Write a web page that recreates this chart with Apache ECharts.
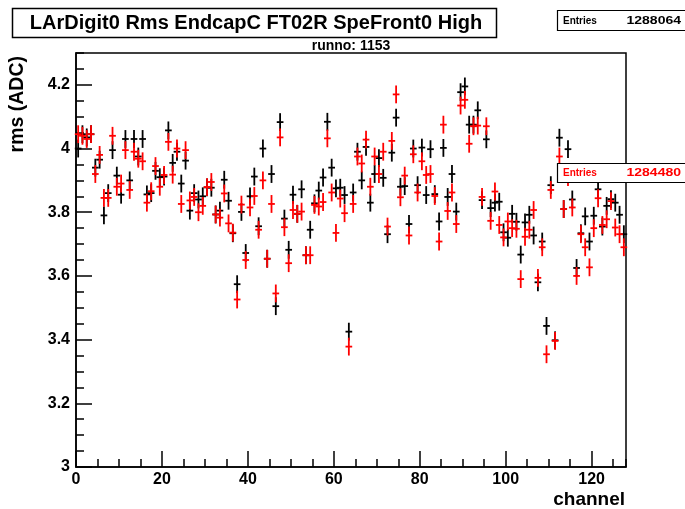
<!DOCTYPE html>
<html><head><meta charset="utf-8">
<script src="https://cdn.jsdelivr.net/npm/echarts@6/dist/echarts.min.js"></script>
<style>html,body{margin:0;padding:0;background:#fff}#c{width:685px;height:509px}</style>
</head><body><div id="c"></div>
<script>
const titleText = "LArDigit0 Rms EndcapC FT02R SpeFront0 High";
const subTitle = "runno: 1153";
const xName = "channel";
const yName = "rms (ADC)";
const entriesLabel = "Entries";
const entriesBlack = "1288064";
const entriesRed = "1284480";
const xTickLabels = [0, 20, 40, 60, 80, 100, 120];
const yTickLabels = [3, 3.2, 3.4, 3.6, 3.8, 4, 4.2];
const nChannels = 128;

const rmsBlack = [
4.00, 4.045, 4.035, 4.045, 3.94, 3.965, 3.79, 3.86, 3.995, 3.915,
3.855, 4.03, 3.90, 4.03, 3.975, 4.03, 3.856, 3.86, 3.93, 3.91,
3.912, 4.057, 3.955, 3.99, 3.89, 3.962, 3.805, 3.86, 3.84, 3.85,
3.878, 3.877, 3.793, 3.805, 3.902, 3.836, 3.734, 3.574, 3.801, 3.672,
3.85, 3.912, 3.756, 4.0, 3.654, 3.92, 3.505, 4.083, 3.78, 3.682,
3.855, 3.795, 3.872, 3.665, 3.745, 3.828, 3.868, 3.909, 4.084, 3.94,
3.875, 3.877, 3.854, 3.425, 3.862, 3.99, 3.90, 4.005, 3.83, 3.92,
3.97, 3.908, 3.731, 3.987, 4.097, 3.88, 3.882, 3.763, 4.0, 3.885,
4.003, 3.854, 3.998, 3.857, 3.771, 4.002, 3.848, 3.92, 3.802, 4.177,
4.195, 4.075, 4.075, 4.12, 3.838, 4.029, 3.813, 3.83, 3.833, 3.737,
3.72, 3.795, 3.77, 3.667, 3.768, 3.792, 3.727, 3.58, 3.708, 3.443,
3.885, 3.398, 4.034, 3.81, 3.998, 3.84, 3.625, 3.734, 3.787, 3.708,
3.789, 3.872, 3.755, 3.82, 3.841, 3.83, 3.792, 3.731
];
const rmsRed = [
4.045, 4.04, 4.03, 4.045, 3.92, 3.98, 3.845, 3.845, 4.04, 3.88,
3.89, 3.995, 3.87, 3.99, 3.968, 3.96, 3.83, 3.866, 3.945, 3.88,
3.917, 4.021, 3.918, 4.0, 3.826, 3.995, 3.837, 3.848, 3.80, 3.82,
3.879, 3.895, 3.793, 3.783, 3.859, 3.765, 3.736, 3.526, 3.824, 3.65,
3.815, 3.851, 3.745, 3.90, 3.654, 3.826, 3.545, 4.035, 3.753, 3.64,
3.807, 3.795, 3.802, 3.665, 3.665, 3.823, 3.818, 3.832, 4.032, 3.862,
3.735, 3.843, 3.797, 3.378, 3.826, 3.975, 3.953, 4.028, 3.88, 3.975,
3.92, 3.99, 3.755, 4.024, 4.17, 3.847, 3.915, 3.727, 3.982, 3.862,
3.96, 3.917, 3.92, 3.851, 3.708, 4.075, 3.804, 3.862, 3.763, 4.135,
4.153, 4.015, 4.07, 4.072, 3.848, 4.07, 3.773, 3.865, 3.76, 3.721,
3.771, 3.75, 3.748, 3.59, 3.723, 3.745, 3.807, 3.594, 3.69, 3.354,
3.87, 3.396, 3.975, 3.81, 3.91, 3.815, 3.60, 3.731, 3.69, 3.627,
3.75, 3.844, 3.76, 3.778, 3.835, 3.752, 3.731, 3.69
];
const errHalf = 0.028;

const F = '"Liberation Sans", Arial, Helvetica, sans-serif';
const chart = echarts.init(document.getElementById('c'), null, {renderer: 'canvas'});

function errSeries(name, vals, color, z) {
  return {
    type: 'custom', name: name, z: z, xAxisIndex: 0, yAxisIndex: 0,
    data: vals.map((v, i) => [i + 0.5, v]),
    renderItem: function (params, api) {
      const x = api.value(0), y = api.value(1);
      const c = api.coord([x, y]);
      const t = api.coord([x, y + errHalf]);
      const b = api.coord([x, y - errHalf]);
      const l = api.coord([x - 0.5, y]);
      const r = api.coord([x + 0.5, y]);
      return {
        type: 'group', children: [
          {type: 'line', shape: {x1: c[0], y1: t[1], x2: c[0], y2: b[1]}, style: {stroke: color, lineWidth: 1.8}},
          {type: 'line', shape: {x1: l[0] - 1.2, y1: c[1], x2: r[0] + 1.2, y2: c[1]}, style: {stroke: color, lineWidth: 1.8}}
        ]
      };
    },
    animation: false
  };
}

const axisLineStyle = {color: '#000', width: 1.5};
const option = {
  animation: false,
  backgroundColor: '#fff',
  grid: {left: 76, top: 53, width: 550, height: 414, show: true, borderColor: '#000', borderWidth: 1.5, backgroundColor: '#fff'},
  xAxis: [
    {type: 'value', min: 0, max: nChannels, interval: 5, position: 'bottom',
     axisLine: {show: false}, axisTick: {inside: true, length: 8, lineStyle: axisLineStyle},
     axisLabel: {show: false}, splitLine: {show: false}},
    {type: 'value', min: 0, max: nChannels, interval: 20, position: 'bottom',
     axisLine: {show: true, lineStyle: axisLineStyle}, axisTick: {inside: true, length: 16, lineStyle: axisLineStyle},
     axisLabel: {show: true, margin: 5, color: '#000', fontFamily: F, fontWeight: 'bold', fontSize: 16,
       showMaxLabel: false,
       formatter: v => xTickLabels.indexOf(v) >= 0 ? String(v) : ''},
     splitLine: {show: false}}
  ],
  yAxis: [
    {type: 'value', min: 3, max: 4.3, interval: 0.05, position: 'left',
     axisLine: {show: false}, axisTick: {inside: true, length: 8, lineStyle: axisLineStyle},
     axisLabel: {show: false}, splitLine: {show: false}},
    {type: 'value', min: 3, max: 4.3, interval: 0.2, position: 'left',
     axisLine: {show: true, lineStyle: axisLineStyle}, axisTick: {inside: true, length: 16, lineStyle: axisLineStyle},
     axisLabel: {show: true, margin: 6, color: '#000', fontFamily: F, fontWeight: 'bold', fontSize: 16,
       showMaxLabel: false,
       formatter: v => {
         const m = yTickLabels.find(t => Math.abs(t - v) < 1e-6);
         return m === undefined ? '' : String(m);
       }},
     splitLine: {show: false}}
  ],
  series: [
    errSeries('black', rmsBlack, '#000', 2),
    errSeries('red', rmsRed, '#ff0000', 3)
  ],
  graphic: [
    {type: 'rect', z: 10, shape: {x: 12.5, y: 8.5, width: 484, height: 29}, style: {fill: '#fff', stroke: '#000', lineWidth: 1.5}},
    {type: 'text', z: 11, x: 256, y: 23, style: {text: titleText, font: 'bold 20px ' + F, fill: '#000', align: 'center', verticalAlign: 'middle'}},
    {type: 'text', z: 11, x: 351, y: 46, style: {text: subTitle, font: 'bold 14px ' + F, fill: '#000', align: 'center', verticalAlign: 'middle'}},
    {type: 'rect', z: 10, shape: {x: 557.5, y: 10.5, width: 140, height: 20}, style: {fill: '#fff', stroke: '#000', lineWidth: 1.2}},
    {type: 'text', z: 11, x: 563, y: 21, style: {text: entriesLabel, font: 'bold 10px ' + F, fill: '#000', align: 'left', verticalAlign: 'middle'}},
    {type: 'text', z: 11, x: 681, y: 21, scaleX: 1.4, style: {text: entriesBlack, font: 'bold 10px ' + F, fill: '#000', align: 'right', verticalAlign: 'middle'}},
    {type: 'rect', z: 10, shape: {x: 557.5, y: 163.5, width: 140, height: 19}, style: {fill: '#fff', stroke: '#000', lineWidth: 1.2}},
    {type: 'text', z: 11, x: 563, y: 173, style: {text: entriesLabel, font: 'bold 10px ' + F, fill: '#ff0000', align: 'left', verticalAlign: 'middle'}},
    {type: 'text', z: 11, x: 681, y: 173, scaleX: 1.4, style: {text: entriesRed, font: 'bold 10px ' + F, fill: '#ff0000', align: 'right', verticalAlign: 'middle'}},
    {type: 'text', z: 11, x: 625, y: 500, style: {text: xName, font: 'bold 19px ' + F, fill: '#000', align: 'right', verticalAlign: 'middle'}},
    {type: 'text', z: 11, x: 18, y: 56, rotation: Math.PI / 2, style: {text: yName, font: 'bold 19.5px ' + F, fill: '#000', align: 'right', verticalAlign: 'middle'}}
  ]
};
chart.setOption(option);
</script>
</body></html>
